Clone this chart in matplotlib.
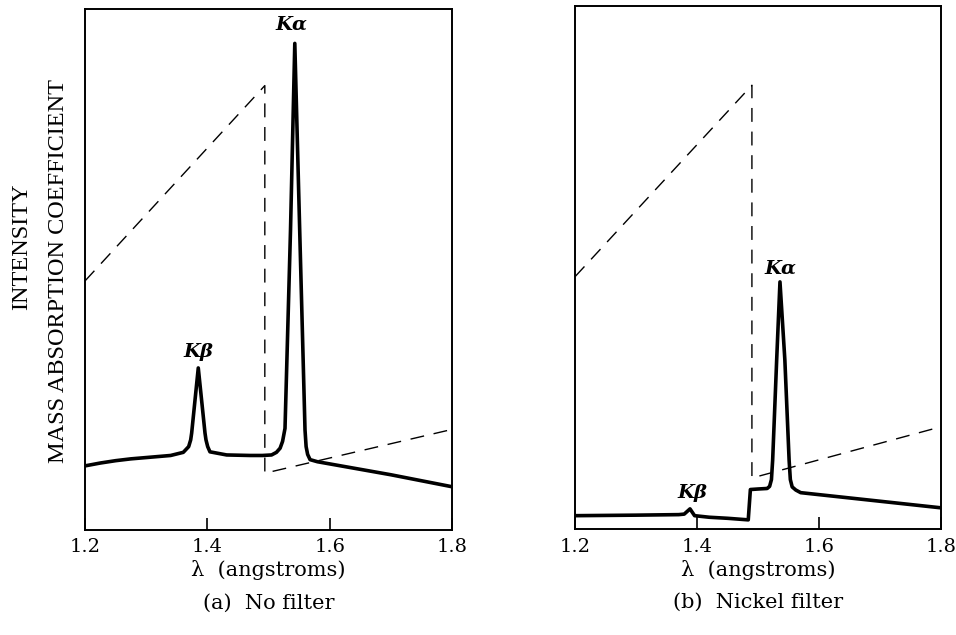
import matplotlib
matplotlib.use("Agg")
import matplotlib.pyplot as plt

plt.rcParams['font.family'] = ['DejaVu Serif']

# (a) no filter: spectrum and absorption coefficient of the Ni filter
lam_a = [1.200, 1.225, 1.250, 1.275, 1.300, 1.320, 1.340, 1.3607, 1.3695,
         1.3728, 1.3744, 1.3852, 1.3962, 1.3978, 1.4006, 1.4043, 1.4316,
         1.470, 1.490, 1.505, 1.513, 1.519, 1.523, 1.527, 1.536, 1.543,
         1.551, 1.5597, 1.5615, 1.564, 1.568, 1.580, 1.700, 1.800]
int_a = [12.3, 12.85, 13.3, 13.65, 13.9, 14.1, 14.3, 14.9, 16.0,
         17.3, 18.6, 31.1, 18.6, 17.3, 16.0, 15.0, 14.4,
         14.3, 14.3, 14.4, 14.9, 15.7, 17.0, 19.5, 57.6, 93.4,
         57.6, 19.2, 16.0, 14.5, 13.5, 13.1, 10.6, 8.3]
abs_lam_a = [1.200, 1.494, 1.494, 1.800]
abs_a = [47.8, 85.3, 10.9, 19.3]

# (b) nickel filter
lam_b = [1.200, 1.300, 1.370, 1.379, 1.3885, 1.396, 1.420, 1.450, 1.484,
         1.4875, 1.500, 1.515, 1.519, 1.522, 1.524, 1.5306, 1.536, 1.544,
         1.551, 1.553, 1.556, 1.562, 1.570, 1.800]
int_b = [2.6, 2.7, 2.8, 2.9, 3.9, 2.6, 2.3, 2.1, 1.8,
         7.6, 7.7, 7.8, 8.2, 9.5, 13.2, 32.4, 47.3, 32.4,
         13.2, 9.5, 8.1, 7.5, 7.0, 4.1]
abs_lam_b = [1.200, 1.490, 1.490, 1.800]
abs_b = [48.3, 84.9, 9.8, 19.6]

ticks = [1.2, 1.4, 1.6, 1.8]
tick_labels = ["1.2", "1.4", "1.6", "1.8"]

fig = plt.figure(figsize=(9.56, 6.35), dpi=100)
ax1 = fig.add_axes([0.0889, 0.1654, 0.3839, 0.8204])
ax2 = fig.add_axes([0.6015, 0.1665, 0.3828, 0.8236])

panels = [
    (ax1, lam_a, int_a, abs_lam_a, abs_a, "(a)  No filter",
     [(1.538, 97.1, "Kα"), (1.385, 34.2, "Kβ")]),
    (ax2, lam_b, int_b, abs_lam_b, abs_b, "(b)  Nickel filter",
     [(1.536, 49.8, "Kα"), (1.392, 6.9, "Kβ")]),
]

for ax, lam, inten, alam, acoef, caption, peaks in panels:
    ax.plot(alam, acoef, color='k', lw=1.0, dashes=(10, 7))
    ax.plot(lam, inten, color='k', lw=2.6, solid_joinstyle='round')
    for x, y, s in peaks:
        ax.text(x, y, s, ha='center', va='center', fontsize=14,
                fontweight='bold', fontstyle='italic')
    ax.set_xlim(1.2, 1.8)
    ax.set_ylim(0, 100)
    ax.set_xticks(ticks)
    ax.set_xticklabels(tick_labels)
    ax.set_yticks([])
    ax.tick_params(axis='x', direction='in', length=9, width=1.2,
                   labelsize=14, pad=6)
    for sp in ax.spines.values():
        sp.set_linewidth(1.4)
    ax.set_xlabel("λ  (angstroms)", fontsize=15, labelpad=3)
    ax.text(0.5, -0.14, caption, transform=ax.transAxes,
            ha='center', va='center', fontsize=15)

fig.text(0.0227, 0.6115, "INTENSITY", rotation=90, ha='center', va='center',
         fontsize=17.5, family='Liberation Serif')
fig.text(0.0617, 0.573, "MASS ABSORPTION COEFFICIENT", rotation=90,
         ha='center', va='center', fontsize=17.5, family='Liberation Serif')

fig.savefig("out.png", dpi=100)
